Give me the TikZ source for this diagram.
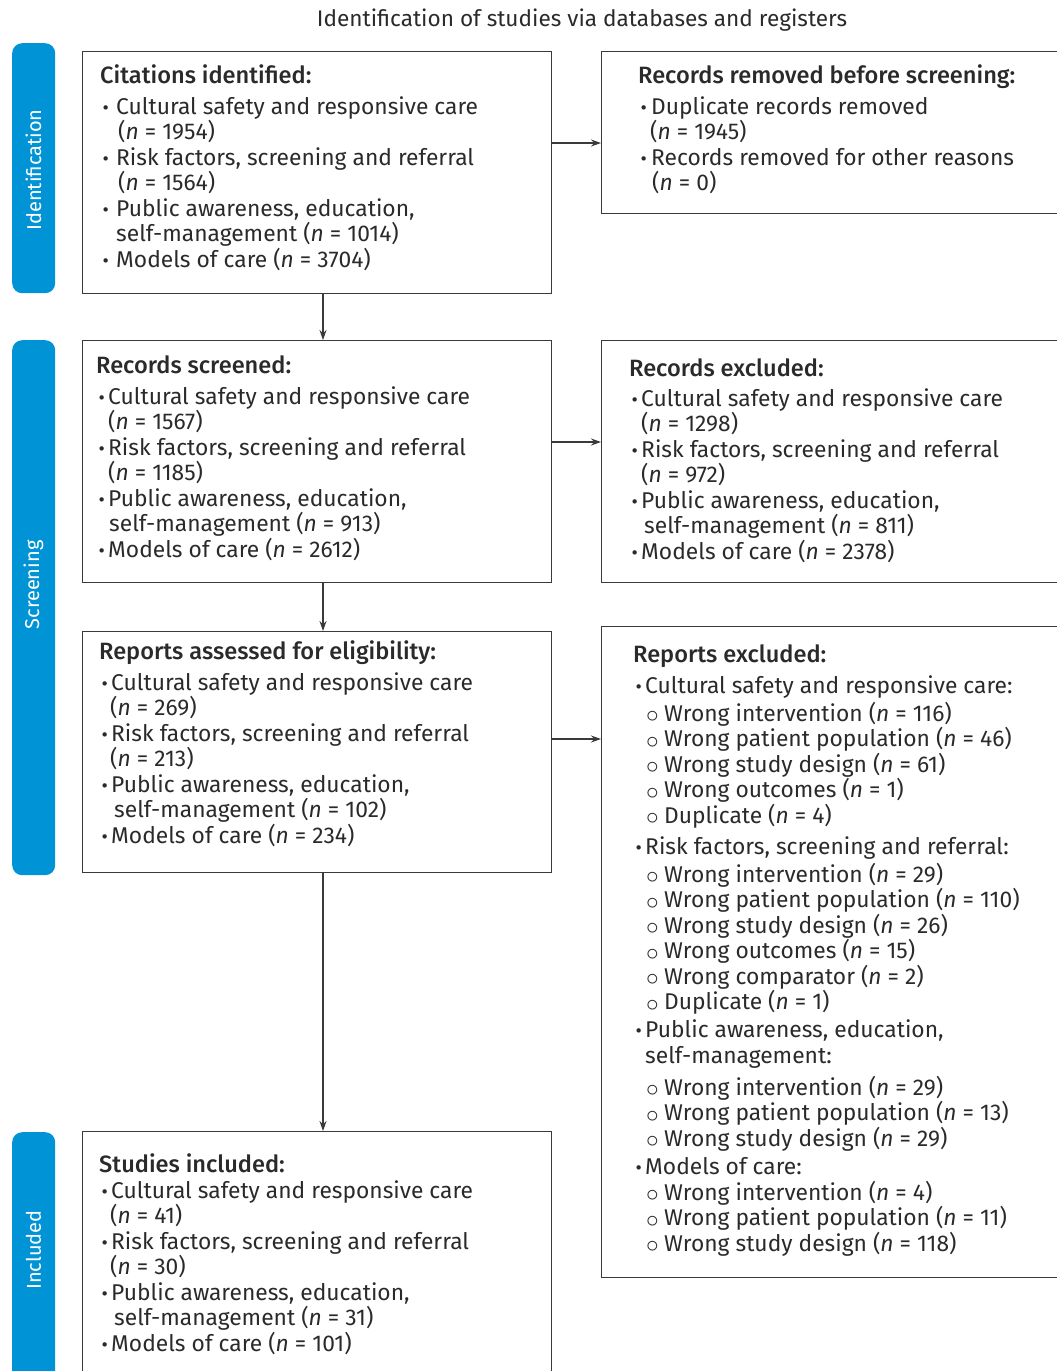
\documentclass[tikz,border=0pt]{standalone}
\usepackage{fontspec}
\setmainfont{Fira Sans}[BoldFont={* Medium}, BoldItalicFont={* Medium Italic}]
\usetikzlibrary{arrows.meta}
\definecolor{ink}{HTML}{2A2A2A}
\definecolor{sideblue}{HTML}{0093D6}
\definecolor{frame}{HTML}{3A3A3A}
\newcommand\bul[1][12]{\makebox[#1pt][l]{\hspace*{2.5pt}\scalebox{0.85}{\textbullet}}}
\newcommand\cnt[1][12]{\hspace*{#1pt}}
\newcommand\subi{\hspace*{13pt}\makebox[18pt][l]{\raisebox{-1.3pt}{\scalebox{1.22}{$\circ$}}}}
\newcommand\nn{\textit{n}}
\newcommand\fr{\rule{0pt}{20pt}}
\newcommand\hd[1]{{\fontsize{23.6}{25.5}\selectfont\textbf{#1}}}
\tikzset{
  box/.style={draw=frame, line width=1.3pt, anchor=north west, inner sep=0pt},
  txt/.style={anchor=north west, inner sep=0pt, align=left, text=ink, font=\fontsize{22.8}{25.5}\selectfont},
  sidebar/.style={fill=sideblue, rounded corners=10pt, anchor=north west, inner sep=0pt, minimum width=43pt},
  sidelabel/.style={rotate=90, text=white, inner sep=0pt, font=\fontsize{20}{22}\selectfont},
  arr/.style={draw=frame, line width=1.2pt, -{Stealth[length=10pt,width=7pt]}}
}
\begin{document}
\begin{tikzpicture}[x=1pt,y=-1pt]
\useasboundingbox (0,0) rectangle (1057,1371);
\clip (0,0) rectangle (1057,1371);
% title
\node[anchor=center, inner sep=0pt, text=ink, font=\fontsize{22.6}{26}\selectfont] (title) at (582,20) {Identification of studies via databases and registers};
% side bars
\node[sidebar, minimum height=250pt] (s1) at (12,43) {};
\node[sidebar, minimum height=535pt] (s2) at (12,340) {};
\node[sidebar, minimum height=260pt] (s3) at (12,1132) {};
\node[sidelabel] (l1) at (33.5,170) {Identification};
\node[sidelabel] (l2) at (33.5,585) {Screening};
\node[sidelabel] (l3) at (33.5,1250) {Included};
% boxes
\node[box, minimum width=469pt, minimum height=242pt] (b1) at (82,51) {};
\node[box, minimum width=470pt, minimum height=162pt] (b2) at (601,51) {};
\node[box, minimum width=469pt, minimum height=242pt] (b3) at (82,340) {};
\node[box, minimum width=470pt, minimum height=242pt] (b4) at (601,340) {};
\node[box, minimum width=469pt, minimum height=241pt] (b5) at (82,631) {};
\node[box, minimum width=470pt, minimum height=651pt] (b6) at (601,626) {};
\node[box, minimum width=469pt, minimum height=260pt] (b7) at (82,1131) {};
% texts
\node[txt] (t1) at (100,63) {\fr\hd{Citations identified:}\\[5.5pt]
\bul[16]Cultural safety and responsive care\\
\cnt[18](\nn{} = 1954)\\
\bul[16]Risk factors, screening and referral\\
\cnt[18](\nn{} = 1564)\\
\bul[16]Public awareness, education,\\
\cnt[16]self-management (\nn{} = 1014)\\
\bul[16]Models of care (\nn{} = 3704)};
\node[txt] (t2) at (638,63) {\fr\hd{Records removed before screening:}\\[5.5pt]
\bul[13]Duplicate records removed\\
\cnt[12](\nn{} = 1945)\\
\bul[13]Records removed for other reasons\\
\cnt[14](\nn{} = 0)};
\node[txt] (t3) at (96,353) {\fr\hd{Records screened:}\\[5.5pt]
\bul Cultural safety and responsive care\\
\cnt(\nn{} = 1567)\\
\bul Risk factors, screening and referral\\
\cnt(\nn{} = 1185)\\
\bul Public awareness, education,\\
\cnt[13]self-management (\nn{} = 913)\\
\bul Models of care (\nn{} = 2612)};
\node[txt] (t4) at (629,356) {\fr\hd{Records excluded:}\\[4.5pt]
\bul Cultural safety and responsive care\\
\cnt(\nn{} = 1298)\\
\bul Risk factors, screening and referral\\
\cnt(\nn{} = 972)\\
\bul Public awareness, education,\\
\cnt[15]self-management (\nn{} = 811)\\
\bul Models of care (\nn{} = 2378)};
\node[txt] (t5) at (99,639) {\fr\hd{Reports assessed for eligibility:}\\[5.5pt]
\bul Cultural safety and responsive care\\
\cnt[11](\nn{} = 269)\\
\bul Risk factors, screening and referral\\
\cnt[11](\nn{} = 213)\\
\bul Public awareness, education,\\
\cnt[15]self-management (\nn{} = 102)\\
\bul Models of care (\nn{} = 234)};
\node[txt] (t6) at (633,642) {\fr\hd{Reports excluded:}\\[5.5pt]
\bul Cultural safety and responsive care:\\[2.5pt]
\subi Wrong intervention (\nn{} = 116)\\
\subi Wrong patient population (\nn{} = 46)\\
\subi Wrong study design (\nn{} = 61)\\
\subi Wrong outcomes (\nn{} = 1)\\
\subi Duplicate (\nn{} = 4)\\[5.5pt]
\bul Risk factors, screening and referral:\\[2.5pt]
\subi Wrong intervention (\nn{} = 29)\\
\subi Wrong patient population (\nn{} = 110)\\
\subi Wrong study design (\nn{} = 26)\\
\subi Wrong outcomes (\nn{} = 15)\\
\subi Wrong comparator (\nn{} = 2)\\
\subi Duplicate (\nn{} = 1)\\[2.5pt]
\bul Public awareness, education,\\
\cnt self-management:\\[6.5pt]
\subi Wrong intervention (\nn{} = 29)\\
\subi Wrong patient population (\nn{} = 13)\\
\subi Wrong study design (\nn{} = 29)\\[2.5pt]
\bul Models of care:\\[0.5pt]
\subi Wrong intervention (\nn{} = 4)\\
\subi Wrong patient population (\nn{} = 11)\\
\subi Wrong study design (\nn{} = 118)};
\node[txt] (t7) at (99,1152) {\fr\hd{Studies included:}\\[0.5pt]
\bul Cultural safety and responsive care\\
\cnt[11](\nn{} = 41)\\
\bul Risk factors, screening and referral\\
\cnt[11](\nn{} = 30)\\
\bul Public awareness, education,\\
\cnt[15]self-management (\nn{} = 31)\\
\bul Models of care (\nn{} = 101)};
% connectors
\coordinate (ax) at (323,0);
\coordinate (h1) at (0,143);
\coordinate (h2) at (0,442);
\coordinate (h3) at (0,739);
\draw[arr] (b1.south -| ax) -- (b3.north -| ax);
\draw[arr] (b3.south -| ax) -- (b5.north -| ax);
\draw[arr] (b5.south -| ax) -- (b7.north -| ax);
\draw[arr] (b1.east |- h1) -- (b2.west |- h1);
\draw[arr] (b3.east |- h2) -- (b4.west |- h2);
\draw[arr] (b5.east |- h3) -- (b6.west |- h3);
\end{tikzpicture}
\end{document}
